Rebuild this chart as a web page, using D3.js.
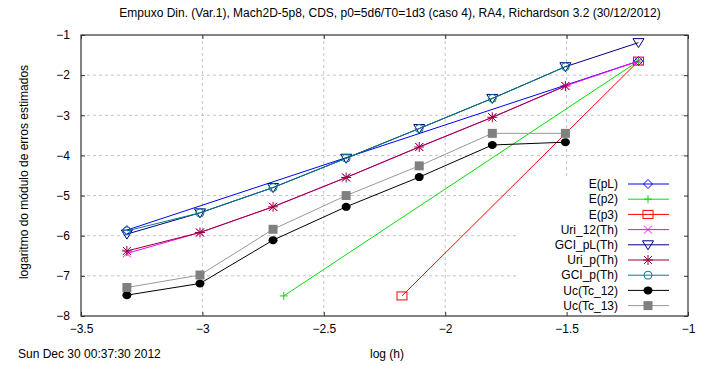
<!DOCTYPE html>
<html>
<head>
<meta charset="utf-8">
<script src="https://cdn.jsdelivr.net/npm/d3@7"></script>
<style>
body { margin: 0; background: #fff; }
text { font-family: "Liberation Sans", Arial, sans-serif; font-size: 12px; fill: #000; }
</style>
</head>
<body>
<svg id="chart" width="706" height="371"></svg>
<script>
// log(h) for the 8 grids
var logH = [-3.311, -3.010, -2.709, -2.408, -2.107, -1.806, -1.505, -1.204];

// two-point reference lines
var ePLx = [-3.311, -1.204], ePLy = [-5.86, -1.65];
var eP2x = [-2.665, -1.204], eP2y = [-7.5, -1.65];
var eP3x = [-2.178, -1.204], eP3y = [-7.5, -1.65];

var uri12 = [-6.44, -5.92, -5.28, -4.55, -3.79, -3.05, -2.27, -1.65];
var gciPL = [-5.96, -5.43, -4.80, -4.07, -3.33, -2.58, -1.79, -1.19];
var uriP  = [-6.38, -5.92, -5.28, -4.55, -3.79, -3.05, -2.27];
var gciP  = [-5.88, -5.43, -4.80, -4.07, -3.33, -2.58, -1.79];
var uc12  = [-7.48, -7.19, -6.11, -5.28, -4.54, -3.74, -3.67];
var uc13  = [-7.29, -6.98, -5.84, -5.00, -4.26, -3.45, -3.45];

var xTicks = [-3.5, -3, -2.5, -2, -1.5, -1];
var yTicks = [-1, -2, -3, -4, -5, -6, -7, -8];

var titleText = "Empuxo Din. (Var.1), Mach2D-5p8, CDS, p0=5d6/T0=1d3 (caso 4), RA4, Richardson 3.2 (30/12/2012)";

function pts(xs, ys) {
	return ys.map(function(v, i){ return [xs[i], v]; });
}

var series = [
	{name: "E(pL)",      data: pts(ePLx, ePLy),  color: "#0000ff", mark: "diamond"},
	{name: "E(p2)",      data: pts(eP2x, eP2y),  color: "#00e000", mark: "plus"},
	{name: "E(p3)",      data: pts(eP3x, eP3y),  color: "#ff0000", mark: "square"},
	{name: "Uri_12(Th)", data: pts(logH, uri12), color: "#ff00ff", mark: "cross"},
	{name: "GCI_pL(Th)", data: pts(logH, gciPL), color: "#000080", mark: "triangle"},
	{name: "Uri_p(Th)",  data: pts(logH, uriP),  color: "#990033", mark: "star"},
	{name: "GCI_p(Th)",  data: pts(logH, gciP),  color: "#008080", mark: "circle"},
	{name: "Uc(Tc_12)",  data: pts(logH, uc12),  color: "#000000", mark: "dot"},
	{name: "Uc(Tc_13)",  data: pts(logH, uc13),  color: "#999999", mark: "box", fill: "#808080"}
];

var W = 706, H = 371;
var margin = {left: 81, right: 18, top: 35, bottom: 55};
var svg = d3.select("#chart");

var x = d3.scaleLinear().domain([-3.5, -1]).range([margin.left, W - margin.right]);
var y = d3.scaleLinear().domain([-8, -1]).range([H - margin.bottom, margin.top]);
var x0 = x.range()[0], x1 = x.range()[1], y0 = y.range()[0], y1 = y.range()[1];

// grid
var grid = svg.append("g").attr("stroke", "#c4c4c4").attr("stroke-dasharray", "3,3");
xTicks.slice(1, -1).forEach(function(t){
	grid.append("line").attr("x1", x(t)).attr("x2", x(t)).attr("y1", y1).attr("y2", y0);
});
yTicks.slice(1, -1).forEach(function(t){
	grid.append("line").attr("x1", x0).attr("x2", x1).attr("y1", y(t)).attr("y2", y(t));
});

// legend background hides the grid only, the curves go over it
var legX = 517, legY = 176, rowH = 15.2;
svg.append("rect").attr("x", legX).attr("y", legY).attr("width", x1 - legX - 1).attr("height", y0 - legY - 1).attr("fill", "#fff");

// axes (ticks inward, mirrored)
var ax = d3.axisBottom(x).tickValues(xTicks).tickSize(-4).tickPadding(8).tickFormat(d3.format("~g"));
var ay = d3.axisLeft(y).tickValues(yTicks).tickSize(-4).tickPadding(11).tickFormat(d3.format("~g"));
var gx = svg.append("g").attr("transform", "translate(0," + y0 + ")").call(ax);
var gy = svg.append("g").attr("transform", "translate(" + x0 + ",0)").call(ay);
svg.append("g").attr("transform", "translate(0," + y1 + ")").call(d3.axisTop(x).tickValues(xTicks).tickSize(-4).tickFormat(""));
svg.append("g").attr("transform", "translate(" + x1 + ",0)").call(d3.axisRight(y).tickValues(yTicks).tickSize(-4).tickFormat(""));
svg.selectAll(".domain").remove();
svg.selectAll(".tick line").attr("stroke", "#333");
svg.selectAll(".tick text").attr("font-size", "12px").attr("font-family", "Liberation Sans, Arial, sans-serif");

// markers
function drawMark(g, kind, cx, cy, s) {
	var c = s.color;
	if (kind == "diamond") {
		g.append("path").attr("d", "M" + cx + "," + (cy - 4.5) + "L" + (cx + 4.5) + "," + cy + "L" + cx + "," + (cy + 4.5) + "L" + (cx - 4.5) + "," + cy + "Z")
			.attr("fill", "none").attr("stroke", c);
	} else if (kind == "plus") {
		g.append("path").attr("d", "M" + (cx - 4) + "," + cy + "H" + (cx + 4) + "M" + cx + "," + (cy - 4) + "V" + (cy + 4)).attr("stroke", c);
	} else if (kind == "square") {
		g.append("rect").attr("x", cx - 5).attr("y", cy - 4).attr("width", 10).attr("height", 8).attr("fill", "none").attr("stroke", c);
	} else if (kind == "cross") {
		g.append("path").attr("d", "M" + (cx - 4) + "," + (cy - 4) + "L" + (cx + 4) + "," + (cy + 4) + "M" + (cx + 4) + "," + (cy - 4) + "L" + (cx - 4) + "," + (cy + 4)).attr("stroke", c);
	} else if (kind == "triangle") {
		g.append("path").attr("d", "M" + (cx - 5.5) + "," + (cy - 4) + "L" + (cx + 5.5) + "," + (cy - 4) + "L" + cx + "," + (cy + 5) + "Z")
			.attr("fill", "none").attr("stroke", c);
	} else if (kind == "star") {
		g.append("path").attr("d", "M" + (cx - 4) + "," + (cy - 4) + "L" + (cx + 4) + "," + (cy + 4) + "M" + (cx + 4) + "," + (cy - 4) + "L" + (cx - 4) + "," + (cy + 4)
			+ "M" + (cx - 5) + "," + cy + "H" + (cx + 5) + "M" + cx + "," + (cy - 5) + "V" + (cy + 5)).attr("stroke", c);
	} else if (kind == "circle") {
		g.append("circle").attr("cx", cx).attr("cy", cy).attr("r", 4).attr("fill", "none").attr("stroke", c);
	} else if (kind == "dot") {
		g.append("ellipse").attr("cx", cx).attr("cy", cy).attr("rx", 4.5).attr("ry", 4).attr("fill", c);
	} else if (kind == "box") {
		g.append("rect").attr("x", cx - 4.5).attr("y", cy - 4.5).attr("width", 9).attr("height", 9).attr("fill", s.fill);
	}
}

var line = d3.line().x(function(d){ return x(d[0]); }).y(function(d){ return y(d[1]); });

series.forEach(function(s){
	var g = svg.append("g");
	g.append("path").datum(s.data).attr("d", line).attr("fill", "none").attr("stroke", s.color).attr("stroke-width", 1);
	s.data.forEach(function(d){ drawMark(g, s.mark, x(d[0]), y(d[1]), s); });
});

// legend entries
series.forEach(function(s, i){
	var ly = 184 + i * rowH;
	var g = svg.append("g");
	g.append("text").attr("x", 618).attr("y", ly).attr("dy", "0.35em").attr("text-anchor", "end").text(s.name);
	g.append("line").attr("x1", 628).attr("x2", 669).attr("y1", ly).attr("y2", ly).attr("stroke", s.color);
	drawMark(g, s.mark, 648, ly, s);
});

// frame
svg.append("rect").attr("x", x0).attr("y", y1).attr("width", x1 - x0).attr("height", y0 - y1)
	.attr("fill", "none").attr("stroke", "#333").attr("stroke-width", 1.2);

// titles
svg.append("text").attr("x", 390).attr("y", 13).attr("dy", "0.35em").attr("text-anchor", "middle").attr("font-size", "12.3px").text(titleText);
svg.append("text").attr("x", 387).attr("y", 354).attr("dy", "0.35em").attr("text-anchor", "middle").text("log (h)");
svg.append("text").attr("x", 18).attr("y", 354).attr("dy", "0.35em").text("Sun Dec 30 00:37:30 2012");
svg.append("text").attr("transform", "translate(24,172) rotate(-90)").attr("dy", "0.35em").attr("text-anchor", "middle")
	.text("logaritmo do módulo de erros estimados");
</script>
</body>
</html>
